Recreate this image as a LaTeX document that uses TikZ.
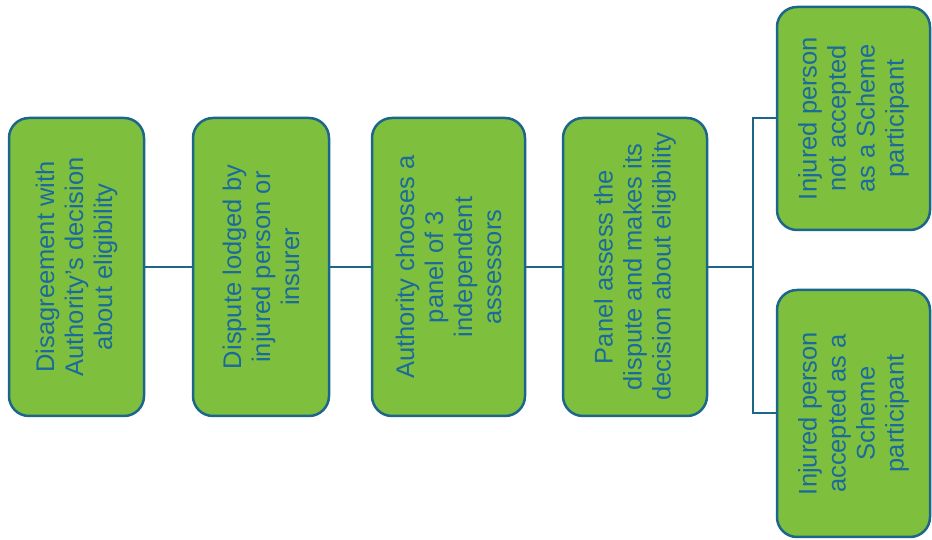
\documentclass[tikz,border=0pt]{standalone}
\usepackage{fontspec}
\setmainfont{Liberation Sans}
\definecolor{boxgreen}{RGB}{126,192,62}
\definecolor{boxblue}{RGB}{28,102,138}
\definecolor{textblue}{RGB}{26,106,156}
\begin{document}
\begin{tikzpicture}[x=1pt,y=1pt,
        stepbox/.style={draw=boxblue, line width=2.5pt, fill=boxgreen,
            rounded corners=20pt, rotate=90, text=textblue, align=center,
            font=\fontsize{25.5}{29}\selectfont, inner sep=4pt},
        link/.style={draw=boxblue, line width=2pt}]
    \fill[white] (0,0) rectangle (932,540);
    \useasboundingbox (0,0) rectangle (932,540);
    % the four steps
    \node[stepbox, minimum width=298pt, minimum height=135pt] (disagree) at (76.5,273)
        {Disagreement with\\Authority’s decision\\about eligibility};
    \node[stepbox, minimum width=298pt, minimum height=136pt] (lodged) at (261,273)
        {Dispute lodged by\\injured person or\\insurer};
    \node[stepbox, minimum width=298pt, minimum height=153pt] (panel) at (448.5,273)
        {Authority chooses a\\panel of 3\\independent\\assessors};
    \node[stepbox, minimum width=298pt, minimum height=144pt] (assess) at (635,273)
        {Panel assess the\\dispute and makes its\\decision about eligibility};
    % the two outcomes
    \node[stepbox, minimum width=223pt, minimum height=153pt] (notacc) at (853.5,421.5)
        {Injured person\\not accepted\\as a Scheme\\participant};
    \node[stepbox, minimum width=247pt, minimum height=153pt] (acc) at (853.5,126.5)
        {Injured person\\accepted as a\\Scheme\\participant};
    \coordinate (split) at (753,273);
    \draw[link] (disagree.south) -- (lodged.north);
    \draw[link] (lodged.south) -- (panel.north);
    \draw[link] (panel.south) -- (assess.north);
    \draw[link] (assess.south) -- (split);
    \draw[link] (notacc.north) -| (split) |- (acc.north);
\end{tikzpicture}
\end{document}
